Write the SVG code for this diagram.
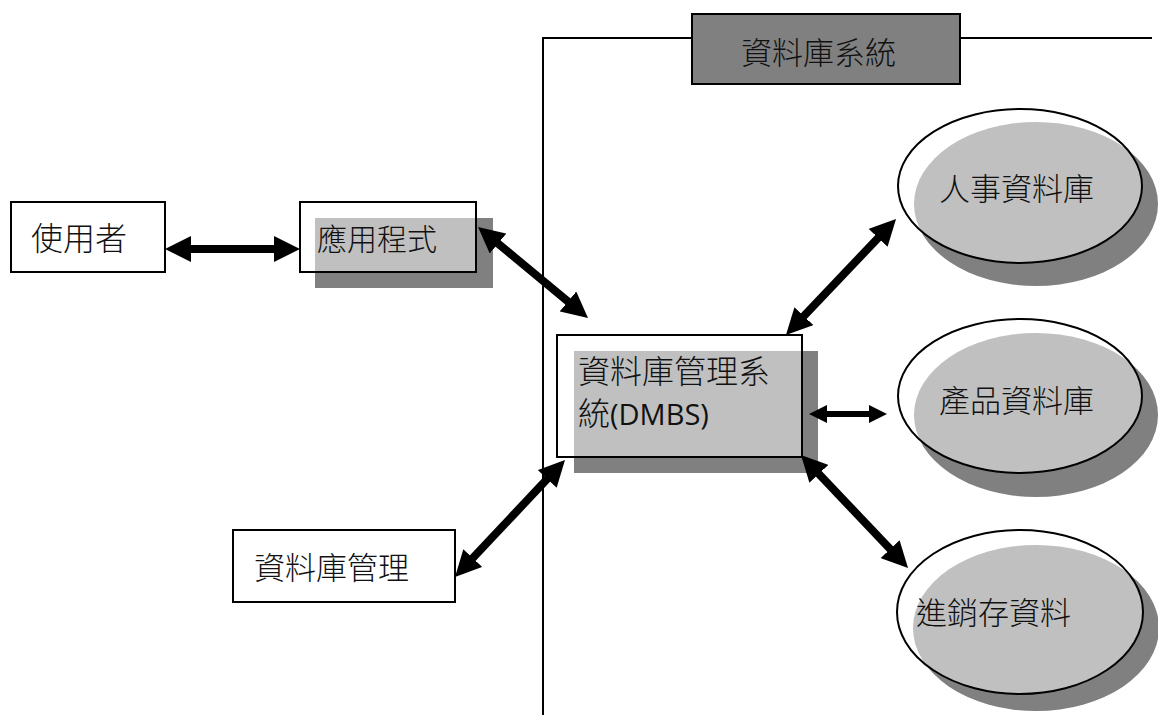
<svg xmlns="http://www.w3.org/2000/svg" width="1158" height="715" viewBox="0 0 1158 715">
<style>
.t{font-family:"Noto Sans CJK TC","Noto Sans CJK SC",sans-serif;font-size:31px;font-weight:300;fill:#111;}
.box{fill:#fff;stroke:#000;stroke-width:2;}
.frame{fill:none;stroke:#000;stroke-width:2;}
.dark{fill:#808080;}
.light{fill:#c0c0c0;}
.arr{stroke:#000;stroke-width:8;fill:none;marker-start:url(#ah);marker-end:url(#ah);}
.arr2{stroke:#000;stroke-width:6;fill:none;marker-start:url(#ah2);marker-end:url(#ah2);}
</style>
<defs>
<marker id="ah" markerUnits="userSpaceOnUse" markerWidth="26" markerHeight="26" viewBox="0 0 26 26" refX="12" refY="13" orient="auto-start-reverse">
<path d="M0,0 L26,13 L0,26 z" fill="#000"/>
</marker>
<marker id="ah2" markerUnits="userSpaceOnUse" markerWidth="18" markerHeight="18" viewBox="0 0 18 18" refX="9" refY="9" orient="auto-start-reverse">
<path d="M0,0 L18,9 L0,18 z" fill="#000"/>
</marker>
<clipPath id="c1"><ellipse cx="1020" cy="186" rx="122" ry="77"/></clipPath>
<clipPath id="c2"><ellipse cx="1020" cy="396" rx="122" ry="77"/></clipPath>
<clipPath id="c3"><ellipse cx="1020" cy="612" rx="123" ry="82"/></clipPath>
</defs>
<rect width="1158" height="715" fill="#fff"/>

<g id="system-frame">
<polyline class="frame" points="543,715 543,38 1152,38"/>
<rect x="692" y="14" width="268" height="70" fill="#808080" stroke="#000" stroke-width="2"/>
<text class="t" x="741" y="64">資料庫系統</text>
</g>

<g id="user">
<rect class="box" x="11" y="202" width="154" height="70"/>
<text class="t" x="31" y="250" style="font-size:32px">使用者</text>
</g>

<g id="app">
<rect class="dark" x="315" y="218" width="178" height="70"/>
<rect x="300" y="202" width="176" height="70" fill="#fff"/>
<rect class="light" x="315" y="218" width="161" height="54"/>
<rect x="300" y="202" width="176" height="70" fill="none" stroke="#000" stroke-width="2"/>
<text class="t" x="317" y="250" style="font-size:30px">應用程式</text>
</g>

<g id="dbadmin">
<rect class="box" x="233" y="530" width="222" height="72"/>
<text class="t" x="254" y="579">資料庫管理</text>
</g>

<g id="dbms">
<rect class="dark" x="574" y="351" width="244" height="122"/>
<rect x="557" y="335" width="245" height="122" fill="#fff"/>
<rect class="light" x="574" y="351" width="228" height="106"/>
<rect x="557" y="335" width="245" height="122" fill="none" stroke="#000" stroke-width="2"/>
<text class="t" x="578" y="383" style="font-size:32px">資料庫管理系</text>
<text class="t" x="578" y="425" style="font-size:32px">統<tspan style="font-family:'Open Sans','Liberation Sans',sans-serif;font-size:29px;font-weight:400">(DMBS)</tspan></text>
</g>

<g id="db-hr">
<ellipse class="dark" cx="1036" cy="204" rx="122" ry="82"/>
<ellipse cx="1020" cy="186" rx="122" ry="77" fill="#fff"/>
<ellipse class="light" cx="1036" cy="204" rx="122" ry="82" clip-path="url(#c1)"/>
<ellipse cx="1020" cy="186" rx="122" ry="77" fill="none" stroke="#000" stroke-width="2"/>
<text class="t" x="939" y="200">人事資料庫</text>
</g>

<g id="db-product">
<ellipse class="dark" cx="1036" cy="415" rx="122" ry="82"/>
<ellipse cx="1020" cy="396" rx="122" ry="77" fill="#fff"/>
<ellipse class="light" cx="1036" cy="415" rx="122" ry="82" clip-path="url(#c2)"/>
<ellipse cx="1020" cy="396" rx="122" ry="77" fill="none" stroke="#000" stroke-width="2"/>
<text class="t" x="939" y="412">產品資料庫</text>
</g>

<g id="db-inventory">
<ellipse class="dark" cx="1036" cy="628" rx="123" ry="83"/>
<ellipse cx="1020" cy="612" rx="123" ry="82" fill="#fff"/>
<ellipse class="light" cx="1036" cy="628" rx="123" ry="83" clip-path="url(#c3)"/>
<ellipse cx="1020" cy="612" rx="123" ry="82" fill="none" stroke="#000" stroke-width="2"/>
<text class="t" x="916" y="624">進銷存資料</text>
</g>

<g id="connectors">
<line class="arr" x1="179" y1="249" x2="286" y2="249"/>
<line class="arr" x1="488.8" y1="235.9" x2="577.2" y2="309.1"/>
<line class="arr" x1="464.6" y1="566.8" x2="555.4" y2="470.2"/>
<line class="arr" x1="795.6" y1="324.8" x2="886.4" y2="229.2"/>
<line class="arr2" x1="818" y1="414" x2="878" y2="414"/>
<line class="arr" x1="810.6" y1="465.2" x2="898.4" y2="557.8"/>
</g>
</svg>
